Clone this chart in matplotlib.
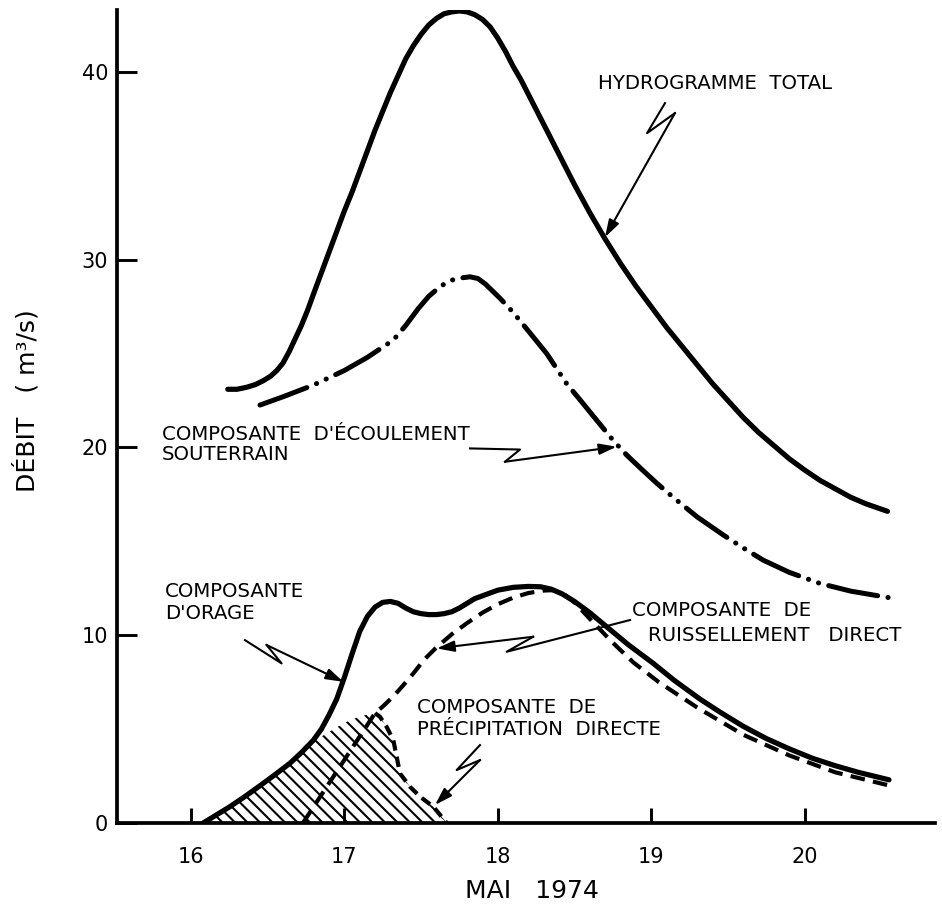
import matplotlib
matplotlib.use('Agg')
import matplotlib.pyplot as plt

# hydrogramme total (jour de mai, m3/s)
total_x = [16.24, 16.30, 16.36, 16.42, 16.47, 16.52, 16.56, 16.60, 16.64, 16.68,
           16.72, 16.76, 16.80, 16.85, 16.90, 16.95, 17.00, 17.05, 17.10, 17.15,
           17.20, 17.25, 17.30, 17.35, 17.40, 17.45, 17.50, 17.55, 17.60, 17.65,
           17.70, 17.75, 17.80, 17.85, 17.90, 17.95, 18.00, 18.05, 18.10, 18.15,
           18.20, 18.25, 18.30, 18.40, 18.50, 18.60, 18.70, 18.80, 18.90, 19.00,
           19.10, 19.20, 19.30, 19.40, 19.50, 19.60, 19.70, 19.80, 19.90, 20.00,
           20.10, 20.20, 20.30, 20.40, 20.54]
total_y = [23.1, 23.1, 23.2, 23.35, 23.55, 23.8, 24.1, 24.5, 25.1, 25.8,
           26.5, 27.3, 28.2, 29.3, 30.4, 31.5, 32.6, 33.6, 34.7, 35.8,
           36.9, 37.9, 38.9, 39.8, 40.7, 41.4, 42.0, 42.5, 42.85, 43.1,
           43.2, 43.25, 43.2, 43.05, 42.8, 42.4, 41.8, 41.1, 40.3, 39.6,
           38.8, 38.0, 37.2, 35.6, 34.0, 32.5, 31.1, 29.8, 28.6, 27.5,
           26.4, 25.4, 24.4, 23.4, 22.5, 21.6, 20.8, 20.1, 19.4, 18.8,
           18.25, 17.8, 17.35, 17.0, 16.6]

# composante d'ecoulement souterrain
base_x = [16.45, 16.60, 16.797, 17.00, 17.15, 17.319, 17.40, 17.482, 17.55, 17.623,
          17.68, 17.732, 17.819, 17.87, 17.92, 18.014, 18.10, 18.20, 18.319, 18.449,
          18.55, 18.65, 18.75, 18.84, 18.93, 19.036, 19.15, 19.30, 19.47, 19.60,
          19.73, 19.90, 20.10, 20.30, 20.58]
base_y = [22.26, 22.7, 23.32, 24.1, 24.8, 25.72, 26.5, 27.4, 28.05, 28.56,
          28.85, 29.0, 29.09, 29.0, 28.7, 27.95, 27.2, 26.2, 25.0, 23.4,
          22.4, 21.4, 20.4, 19.6, 18.9, 18.1, 17.3, 16.3, 15.34, 14.65,
          14.0, 13.35, 12.76, 12.35, 11.96]

# composante d'orage
storm_x = [16.08, 16.15, 16.254, 16.35, 16.471, 16.56, 16.645, 16.72, 16.797, 16.85,
           16.90, 16.95, 17.00, 17.05, 17.10, 17.15, 17.20, 17.25, 17.30, 17.35,
           17.40, 17.45, 17.50, 17.55, 17.60, 17.65, 17.70, 17.75, 17.80, 17.85,
           17.90, 17.95, 18.00, 18.10, 18.20, 18.28, 18.35, 18.42, 18.50, 18.60,
           18.71, 18.85, 19.014, 19.15, 19.318, 19.45, 19.60, 19.75, 19.90, 20.05,
           20.20, 20.35, 20.55]
storm_y = [0.0, 0.35, 0.87, 1.4, 2.11, 2.65, 3.18, 3.75, 4.4, 5.0,
           5.75, 6.6, 7.75, 9.0, 10.2, 11.0, 11.5, 11.75, 11.8, 11.7,
           11.45, 11.25, 11.15, 11.1, 11.1, 11.15, 11.25, 11.45, 11.7, 11.95,
           12.1, 12.25, 12.4, 12.55, 12.6, 12.58, 12.45, 12.2, 11.8, 11.2,
           10.45, 9.5, 8.5, 7.6, 6.6, 5.9, 5.15, 4.5, 3.95, 3.45,
           3.05, 2.7, 2.3]

# composante de ruissellement direct
runoff_x = [16.73, 17.20, 17.25, 17.32, 17.38, 17.45, 17.52, 17.60, 17.70, 17.80,
            17.90, 18.00, 18.10, 18.20, 18.30, 18.36, 18.42, 18.50, 18.62, 18.75,
            18.884, 19.05, 19.30, 19.60, 19.90, 20.20, 20.55]
runoff_y = [0.0, 5.85, 6.2, 6.75, 7.3, 7.97, 8.7, 9.35, 10.05, 10.65,
            11.2, 11.65, 12.0, 12.25, 12.38, 12.4, 12.25, 11.75, 10.7, 9.6,
            8.55, 7.5, 6.15, 4.7, 3.6, 2.7, 2.0]

# composante de precipitation directe (zone hachuree)
prec_x = [16.08, 16.254, 16.471, 16.645, 16.72, 16.797, 16.86, 16.95, 17.03, 17.11,
          17.2, 17.232, 17.275, 17.319, 17.341, 17.362, 17.428, 17.493, 17.58, 17.667]
prec_y = [0.0, 0.87, 2.11, 3.18, 3.75, 4.3, 4.65, 5.1, 5.45, 5.7,
          5.85, 5.66, 5.13, 4.42, 3.53, 2.65, 1.93, 1.40, 0.87, 0.0]

x_ticks = [16, 17, 18, 19, 20]
y_ticks = [0, 10, 20, 30, 40]

DPI = 150
plt.rcParams['font.family'] = ['DejaVu Sans']
plt.rcParams['hatch.linewidth'] = 1.0
plt.rcParams['lines.scale_dashes'] = False

fig = plt.figure(figsize=(942 / DPI, 907 / DPI), dpi=DPI)
ax = fig.add_axes([117 / 942, 84 / 907, 818 / 942, 813 / 907])

ax.fill_between(prec_x, 0, prec_y, facecolor='none', edgecolor='black',
                linewidth=0, hatch='\\\\\\\\')
ax.plot(total_x, total_y, color='black', lw=2.5, solid_capstyle='round',
        solid_joinstyle='round')
ax.plot(storm_x, storm_y, color='black', lw=2.5, solid_capstyle='round',
        solid_joinstyle='round')
ax.plot(base_x, base_y, color='black', lw=2.4, dash_capstyle='round',
        linestyle=(0, (24, 5, 0.1, 5, 0.1, 5)))
ax.plot(runoff_x, runoff_y, color='black', lw=2.0, dash_capstyle='butt',
        linestyle=(0, (7, 4)))
ax.plot(prec_x[10:], prec_y[10:], color='black', lw=2.0, linestyle=(0, (5, 3)))


def zigzag(pts):
    xs = [p[0] for p in pts[:-1]]
    ys = [p[1] for p in pts[:-1]]
    ax.plot(xs, ys, color='black', lw=1.0)
    ax.annotate('', xy=pts[-1], xytext=pts[-2],
                arrowprops=dict(arrowstyle='-|>,head_length=0.7,head_width=0.22',
                                color='black', lw=1.0, shrinkA=0, shrinkB=0))


fs = 9.5
ax.text(18.653, 39.4, 'HYDROGRAMME  TOTAL', fontsize=fs, va='center')
zigzag([(19.09, 38.34), (18.973, 36.74), (19.155, 37.81), (18.699, 31.2)])

ax.text(15.809, 20.15, "COMPOSANTE  D'ÉCOULEMENT\nSOUTERRAIN", fontsize=fs,
        va='center', linespacing=1.1)
zigzag([(17.819, 19.95), (18.145, 19.89), (18.047, 19.24), (18.775, 20.04)])

ax.text(15.83, 11.72, "COMPOSANTE\nD'ORAGE", fontsize=fs, va='center', linespacing=1.2)
zigzag([(16.352, 9.74), (16.591, 8.5), (16.493, 9.48), (16.993, 7.52)])

ax.text(18.873, 11.3, 'COMPOSANTE  DE', fontsize=fs, va='center')
ax.text(18.981, 10.01, 'RUISSELLEMENT   DIRECT', fontsize=fs, va='center')
zigzag([(18.862, 10.81), (18.058, 9.12), (18.231, 9.92), (17.602, 9.3)])

ax.text(17.471, 5.55, 'COMPOSANTE  DE\nPRÉCIPITATION  DIRECTE', fontsize=fs,
        va='center', linespacing=1.2)
zigzag([(17.884, 4.15), (17.732, 2.82), (17.884, 3.35), (17.591, 0.96)])

ax.set_xlim(15.518, 20.85)
ax.set_ylim(0, 43.3)
ax.set_xticks(x_ticks)
ax.set_yticks(y_ticks)
ax.spines['top'].set_visible(False)
ax.spines['right'].set_visible(False)
ax.spines['left'].set_linewidth(1.8)
ax.spines['bottom'].set_linewidth(1.8)
ax.tick_params(axis='y', direction='in', length=9.6, width=1.4, pad=4.3, labelsize=10)
ax.tick_params(axis='x', direction='in', length=7, width=1.4, pad=11.5, labelsize=10)

ax.set_ylabel('DÉBIT   ( m³/s)', fontsize=12)
ax.yaxis.set_label_coords(-0.111, 0.52)
ax.yaxis.label.set_va('center')
ax.set_xlabel('MAI   1974', fontsize=12)
ax.xaxis.set_label_coords(0.507, -0.084)
ax.xaxis.label.set_va('center')

fig.savefig('out.png', dpi=DPI)
